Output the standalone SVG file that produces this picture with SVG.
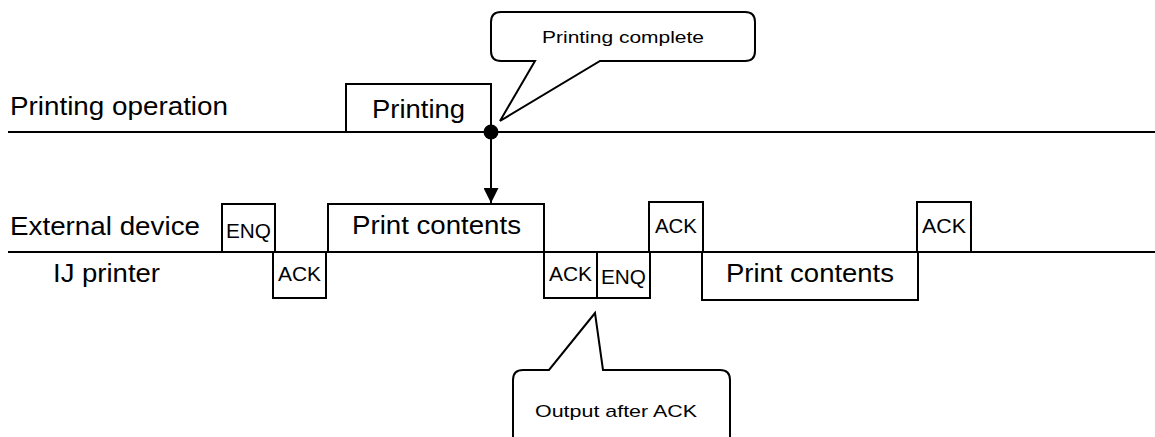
<svg xmlns="http://www.w3.org/2000/svg" width="1155" height="437" viewBox="0 0 1155 437">
<style>
.line{stroke:#000;stroke-width:2;fill:none}
.box{stroke:#000;stroke-width:2;fill:#fff}
.t{font-family:"Liberation Sans",Arial,sans-serif;fill:#000}
.big{font-size:26px}
.mid{font-size:20px}
.sm{font-size:17px}
</style>
<defs>
<marker id="arr" markerWidth="15" markerHeight="15" refX="15" refY="7.5" orient="auto" markerUnits="userSpaceOnUse">
<path d="M0,0 L15,7.5 L0,15 Z" fill="#000"/>
</marker>
</defs>
<rect width="1155" height="437" fill="#fff"/>
<g id="timelines">
<line class="line" x1="8" y1="132" x2="1155" y2="132"/>
<line class="line" x1="8" y1="252" x2="1155" y2="252"/>
</g>
<g id="labels">
<text class="t big" x="10" y="115" textLength="218" lengthAdjust="spacingAndGlyphs">Printing operation</text>
<text class="t big" x="10" y="235" textLength="190" lengthAdjust="spacingAndGlyphs">External device</text>
<text class="t big" x="53" y="282" textLength="107" lengthAdjust="spacingAndGlyphs">IJ printer</text>
</g>
<g id="printing">
<rect class="box" x="346" y="84" width="145" height="48"/>
<text class="t big" x="372" y="118" textLength="93" lengthAdjust="spacingAndGlyphs">Printing</text>
</g>
<g id="enq1">
<rect class="box" x="222" y="204" width="53" height="48"/>
<text class="t mid" x="226" y="238" textLength="45" lengthAdjust="spacingAndGlyphs">ENQ</text>
</g>
<g id="ack1">
<rect class="box" x="273" y="252" width="53" height="46"/>
<text class="t mid" x="278" y="281" textLength="43" lengthAdjust="spacingAndGlyphs">ACK</text>
</g>
<g id="print-contents-1">
<rect class="box" x="328" y="204" width="216" height="48"/>
<text class="t big" x="352" y="234" textLength="169" lengthAdjust="spacingAndGlyphs">Print contents</text>
</g>
<g id="ack2">
<rect class="box" x="544" y="252" width="53" height="46"/>
<text class="t mid" x="549" y="281" textLength="43" lengthAdjust="spacingAndGlyphs">ACK</text>
</g>
<g id="enq2">
<rect class="box" x="597" y="252" width="53" height="46"/>
<text class="t mid" x="601" y="284" textLength="45" lengthAdjust="spacingAndGlyphs">ENQ</text>
</g>
<g id="ack3">
<rect class="box" x="649" y="202" width="54" height="50"/>
<text class="t mid" x="655" y="233" textLength="42" lengthAdjust="spacingAndGlyphs">ACK</text>
</g>
<g id="print-contents-2">
<rect class="box" x="702" y="252" width="216" height="48"/>
<text class="t big" x="726" y="282" textLength="168" lengthAdjust="spacingAndGlyphs">Print contents</text>
</g>
<g id="ack4">
<rect class="box" x="917" y="202" width="54" height="50"/>
<text class="t mid" x="922" y="233" textLength="44" lengthAdjust="spacingAndGlyphs">ACK</text>
</g>
<g id="callout-printing-complete">
<path class="box" d="M501,12 H745 Q755,12 755,22 V51 Q755,61 745,61 H600 L500,121 L535,61 H501 Q491,61 491,51 V22 Q491,12 501,12 Z"/>
<text class="t sm" x="542" y="43" textLength="162" lengthAdjust="spacingAndGlyphs">Printing complete</text>
</g>
<g id="callout-output-after-ack">
<path class="box" d="M523,370 H549 L595,313 L603,370 H720 Q730,370 730,380 V450 H513 V380 Q513,370 523,370 Z"/>
<text class="t sm" x="535" y="417" textLength="162" lengthAdjust="spacingAndGlyphs">Output after ACK</text>
</g>
<g id="connectors">
<line class="line" x1="491" y1="132" x2="491" y2="203" marker-end="url(#arr)"/>
<circle cx="491" cy="132" r="7.5" fill="#000"/>
</g>
</svg>
